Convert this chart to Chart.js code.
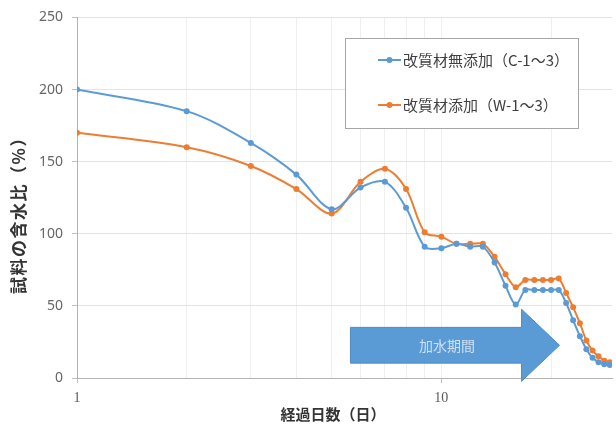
<!DOCTYPE html>
<html>
<head>
<meta charset="utf-8">
<script src="https://cdn.jsdelivr.net/npm/chart.js@4/dist/chart.umd.min.js"></script>
<style>
  html, body { margin: 0; padding: 0; background: #ffffff; }
  #wrap { width: 616px; height: 425px; position: relative; }
</style>
</head>
<body>
<div id="wrap"><canvas id="c" width="616" height="425"></canvas></div>
<script>
// Elapsed days (log axis)
const days = [1, 2, 3, 4, 5, 6, 7, 8, 9, 10, 11, 12, 13, 14, 15, 16, 17, 18, 19, 20,
              21, 22, 23, 24, 25, 26, 27, 28, 29];

// Water content of the samples (%)
const noAdditive = [200, 185, 163, 141, 117, 132, 136, 118, 91, 90, 93, 91, 91, 80, 64, 51, 61, 61, 61, 61,
                    61, 52, 40, 29, 20, 14, 11, 9.5, 9];
const withAdditive = [170, 160, 147, 131, 114, 136, 145, 131, 101, 98, 93, 93, 93, 84, 72, 63, 68, 68, 68, 68,
                      69, 59, 49, 38, 26, 19, 15, 12, 11];

const seriesNames = ['改質材無添加（C-1～3）', '改質材添加（W-1～3）'];
const seriesColors = ['#5B9BD5', '#ED7D31'];

// Axis ticks
const xGridDays = [1, 2, 3, 4, 5, 6, 7, 8, 9, 10, 20];
const xTickLabels = ['1', '10'];
const yTickValues = [0, 50, 100, 150, 200, 250];

const xTitle = '経過日数（日）';
const yTitle = '試料の含水比（%）';
const arrowLabel = '加水期間';

const JP = "'Noto Sans CJK JP', 'Noto Sans', sans-serif";

function toPoints(ys) {
  return days.map((d, i) => ({ x: d, y: ys[i] }));
}

// Water-adding period arrow, placed in data space (days / %)
const arrowSpec = { fromDay: 5.63, headDay: 16.6, tipDay: 21.1, centerVal: 22.7, bodyHalf: 12.4, headHalf: 25 };

const arrowPlugin = {
  id: 'periodArrow',
  beforeDatasetsDraw(chart) {
    const { ctx, scales: { x, y } } = chart;
    const x0 = x.getPixelForValue(arrowSpec.fromDay);
    const xh = x.getPixelForValue(arrowSpec.headDay);
    const xt = x.getPixelForValue(arrowSpec.tipDay);
    const yc = y.getPixelForValue(arrowSpec.centerVal);
    const bh = y.getPixelForValue(0) - y.getPixelForValue(arrowSpec.bodyHalf);
    const hh = y.getPixelForValue(0) - y.getPixelForValue(arrowSpec.headHalf);
    ctx.save();
    ctx.beginPath();
    ctx.moveTo(x0, yc - bh);
    ctx.lineTo(xh, yc - bh);
    ctx.lineTo(xh, yc - hh);
    ctx.lineTo(xt, yc);
    ctx.lineTo(xh, yc + hh);
    ctx.lineTo(xh, yc + bh);
    ctx.lineTo(x0, yc + bh);
    ctx.closePath();
    ctx.fillStyle = '#5B9BD5';
    ctx.fill();
    ctx.strokeStyle = '#4F8CC4';
    ctx.lineWidth = 1;
    ctx.stroke();
    ctx.fillStyle = '#CFE0F2';
    ctx.font = '14px ' + JP;
    ctx.textAlign = 'center';
    ctx.textBaseline = 'middle';
    ctx.fillText(arrowLabel, (x0 + xh) / 2 + 11, yc);
    ctx.restore();
  }
};

const legendPlugin = {
  id: 'boxLegend',
  afterDatasetsDraw(chart) {
    const { ctx } = chart;
    ctx.save();
    ctx.fillStyle = '#ffffff';
    ctx.fillRect(345, 38, 233, 90);
    ctx.strokeStyle = '#A6A6A6';
    ctx.lineWidth = 1;
    ctx.strokeRect(345.5, 38.5, 233, 90);
    const rows = [60, 105];
    chart.data.datasets.forEach((ds, i) => {
      const yy = rows[i];
      ctx.strokeStyle = ds.borderColor;
      ctx.lineWidth = 2;
      ctx.beginPath();
      ctx.moveTo(378, yy);
      ctx.lineTo(401, yy);
      ctx.stroke();
      ctx.fillStyle = ds.borderColor;
      ctx.beginPath();
      ctx.arc(389.5, yy, 3, 0, Math.PI * 2);
      ctx.fill();
      ctx.fillStyle = '#404040';
      ctx.font = '15px ' + JP;
      ctx.textAlign = 'left';
      ctx.textBaseline = 'middle';
      ctx.fillText(ds.label, 403, yy);
    });
    ctx.restore();
  }
};

const titlesPlugin = {
  id: 'axisTitles',
  afterDraw(chart) {
    const { ctx } = chart;
    ctx.save();
    ctx.fillStyle = '#333333';
    ctx.textAlign = 'center';
    ctx.textBaseline = 'middle';
    ctx.font = 'bold 15px ' + JP;
    ctx.fillText(xTitle, 333, 414);
    ctx.font = 'bold 17px ' + JP;
    ctx.letterSpacing = '1.5px';
    ctx.translate(19, 211);
    ctx.rotate(-Math.PI / 2);
    ctx.fillText(yTitle, 0, 0);
    ctx.restore();
  }
};

new Chart(document.getElementById('c'), {
  type: 'line',
  data: {
    datasets: [
      {
        label: seriesNames[0],
        data: toPoints(noAdditive),
        borderColor: seriesColors[0],
        backgroundColor: seriesColors[0],
        borderWidth: 2,
        pointRadius: 3,
        pointBorderWidth: 0,
        tension: 0.33
      },
      {
        label: seriesNames[1],
        data: toPoints(withAdditive),
        borderColor: seriesColors[1],
        backgroundColor: seriesColors[1],
        borderWidth: 2,
        pointRadius: 3,
        pointBorderWidth: 0,
        tension: 0.33
      }
    ]
  },
  options: {
    responsive: false,
    animation: false,
    layout: { padding: { left: 0, right: 0, top: 15, bottom: 0 } },
    plugins: {
      legend: { display: false },
      tooltip: { enabled: false }
    },
    scales: {
      x: {
        type: 'logarithmic',
        min: 1,
        max: 29.4,
        afterFit: s => { s.height = 47; },
        afterBuildTicks: s => {
          s.ticks = xGridDays.map(v => ({ value: v, major: xTickLabels.includes(String(v)) }));
        },
        ticks: {
          autoSkip: false,
          maxRotation: 0,
          padding: 7,
          color: '#595959',
          font: { family: "'Liberation Serif', serif", size: 14 },
          callback: v => (xTickLabels.includes(String(v)) ? String(v) : '')
        },
        grid: {
          color: '#EFEFEF',
          tickLength: 5,
          tickColor: ctx => (ctx.tick && ctx.tick.major ? '#BFBFBF' : 'rgba(0,0,0,0)')
        },
        border: { color: '#B3B3B3', width: 1 }
      },
      y: {
        min: 0,
        max: 250,
        afterFit: s => { s.width = 77; },
        afterBuildTicks: s => { s.ticks = yTickValues.map(v => ({ value: v })); },
        ticks: {
          padding: 9,
          color: '#666666',
          font: { family: "'Noto Sans', sans-serif", size: 14 }
        },
        grid: {
          color: '#E3E3E3',
          tickLength: 5,
          tickColor: '#BFBFBF'
        },
        border: { color: '#B3B3B3', width: 1 }
      }
    }
  },
  plugins: [arrowPlugin, legendPlugin, titlesPlugin]
});
</script>
</body>
</html>
